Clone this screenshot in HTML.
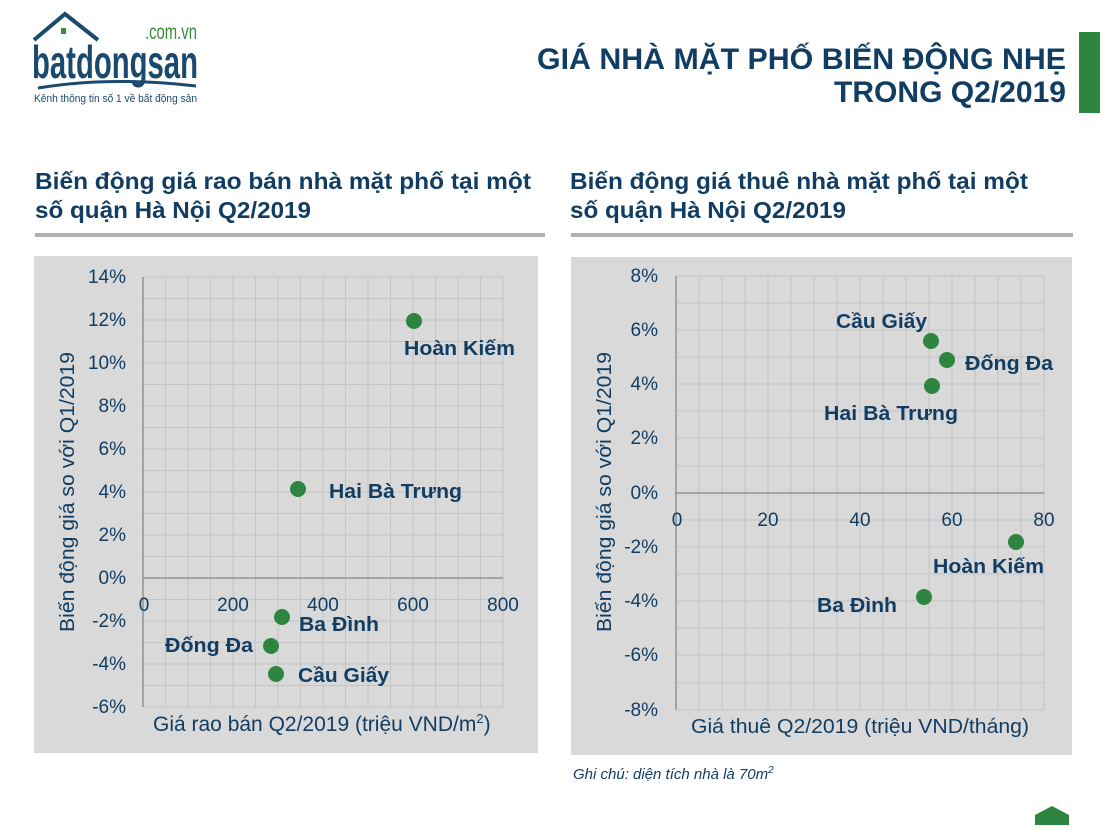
<!DOCTYPE html>
<html><head><meta charset="utf-8"><style>
body{margin:0;width:1100px;height:825px;background:#fff;overflow:hidden;font-family:"Liberation Sans",Arial,sans-serif}
</style></head><body>
<svg width="1100" height="825" xmlns="http://www.w3.org/2000/svg" font-family="Liberation Sans, Arial, sans-serif">
<path d="M34 40 L65 14 L98 40" fill="none" stroke="#1a4a6e" stroke-width="4"/>
<rect x="61" y="28" width="5" height="6" fill="#3a8a3a"/>
<text x="145" y="39" font-size="21" fill="#3a8a3a" textLength="52" lengthAdjust="spacingAndGlyphs">.com.vn</text>
<text x="32" y="78" font-size="46" font-weight="bold" fill="#1a4a6e" textLength="166" lengthAdjust="spacingAndGlyphs">batdongsan</text>
<path d="M38 88 Q110 76 196 86" fill="none" stroke="#1a4a6e" stroke-width="3"/>
<text x="34" y="102" font-size="11" fill="#1a4a6e" textLength="163" lengthAdjust="spacingAndGlyphs">Kênh thông tin số 1 về bất động sản</text>
<text x="1066" y="69" font-size="30" font-weight="bold" fill="#123d63" text-anchor="end" textLength="529" lengthAdjust="spacingAndGlyphs">GIÁ NHÀ MẶT PHỐ BIẾN ĐỘNG NHẸ</text>
<text x="1066" y="102" font-size="30" font-weight="bold" fill="#123d63" text-anchor="end" textLength="232" lengthAdjust="spacingAndGlyphs">TRONG Q2/2019</text>
<rect x="1079" y="32" width="21" height="81" fill="#2e8540"/>
<g font-size="23" font-weight="bold" fill="#123d63">
<text x="35" y="189" textLength="496" lengthAdjust="spacingAndGlyphs">Biến động giá rao bán nhà mặt phố tại một</text>
<text x="35" y="218" textLength="276" lengthAdjust="spacingAndGlyphs">số quận Hà Nội Q2/2019</text>
<text x="570" y="189" textLength="458" lengthAdjust="spacingAndGlyphs">Biến động giá thuê nhà mặt phố tại một</text>
<text x="570" y="218" textLength="276" lengthAdjust="spacingAndGlyphs">số quận Hà Nội Q2/2019</text>
</g>
<rect x="35" y="233" width="510" height="4" fill="#b0b0b0"/>
<rect x="571" y="233" width="502" height="4" fill="#b0b0b0"/>
<rect x="34" y="256" width="504" height="497" fill="#d9d9d9"/>
<rect x="571" y="257" width="501" height="498" fill="#d9d9d9"/>
<g stroke="#c4c4c4" stroke-width="1">
<path d="M165.5 277V707M188 277V707M210.5 277V707M233 277V707M255.5 277V707M278 277V707M300.5 277V707M323 277V707M345.5 277V707M368 277V707M390.5 277V707M413 277V707M435.5 277V707M458 277V707M480.5 277V707M503 277V707"/>
<path d="M143 277H503M143 298.5H503M143 320H503M143 341.5H503M143 363H503M143 384.5H503M143 406H503M143 427.5H503M143 449H503M143 470.5H503M143 492H503M143 513.5H503M143 535H503M143 556.5H503M143 599.5H503M143 621H503M143 642.5H503M143 664H503M143 685.5H503M143 707H503"/>
</g>
<path d="M143 277V707M143 578H503" stroke="#888" stroke-width="1.3"/>
<g font-size="19" fill="#123d63" text-anchor="end">
<text x="126" y="283">14%</text><text x="126" y="326">12%</text><text x="126" y="369">10%</text><text x="126" y="412">8%</text><text x="126" y="455">6%</text><text x="126" y="498">4%</text><text x="126" y="541">2%</text><text x="126" y="584">0%</text><text x="126" y="627">-2%</text><text x="126" y="670">-4%</text><text x="126" y="713">-6%</text>
</g>
<g font-size="19" fill="#123d63" text-anchor="middle">
<text x="144" y="611">0</text><text x="233" y="611">200</text><text x="323" y="611">400</text><text x="413" y="611">600</text><text x="503" y="611">800</text>
<text x="153" y="731" font-size="21" text-anchor="start">Giá rao bán Q2/2019 (triệu VND/m<tspan font-size="13" dy="-8">2</tspan><tspan dy="8">)</tspan></text>
<text transform="translate(74,492) rotate(-90)" font-size="20" textLength="280" lengthAdjust="spacingAndGlyphs">Biến động giá so với Q1/2019</text>
</g>
<g fill="#2e8540">
<circle cx="414" cy="321" r="8"/><circle cx="298" cy="489" r="8"/><circle cx="282" cy="617" r="8"/><circle cx="271" cy="646" r="8"/><circle cx="276" cy="674" r="8"/>
</g>
<g font-size="20" font-weight="bold" fill="#123d63">
<text x="404" y="355" textLength="111" lengthAdjust="spacingAndGlyphs">Hoàn Kiếm</text><text x="329" y="498" textLength="133" lengthAdjust="spacingAndGlyphs">Hai Bà Trưng</text><text x="299" y="631" textLength="80" lengthAdjust="spacingAndGlyphs">Ba Đình</text><text x="165" y="652" textLength="88" lengthAdjust="spacingAndGlyphs">Đống Đa</text><text x="298" y="682" textLength="91" lengthAdjust="spacingAndGlyphs">Cầu Giấy</text>
</g>
<g stroke="#c4c4c4" stroke-width="1">
<path d="M699 276V710M722 276V710M745 276V710M768 276V710M791 276V710M814 276V710M837 276V710M860 276V710M883 276V710M906 276V710M929 276V710M952 276V710M975 276V710M998 276V710M1021 276V710M1044 276V710"/>
<path d="M676 276H1044M676 303H1044M676 330H1044M676 357H1044M676 384H1044M676 411H1044M676 438H1044M676 466H1044M676 520H1044M676 547H1044M676 574H1044M676 601H1044M676 628H1044M676 655H1044M676 683H1044M676 710H1044"/>
</g>
<path d="M676 276V710M676 493H1044" stroke="#888" stroke-width="1.3"/>
<g font-size="19" fill="#123d63" text-anchor="end">
<text x="658" y="282">8%</text><text x="658" y="336">6%</text><text x="658" y="390">4%</text><text x="658" y="444">2%</text><text x="658" y="499">0%</text><text x="658" y="553">-2%</text><text x="658" y="607">-4%</text><text x="658" y="661">-6%</text><text x="658" y="716">-8%</text>
</g>
<g font-size="19" fill="#123d63" text-anchor="middle">
<text x="677" y="526">0</text><text x="768" y="526">20</text><text x="860" y="526">40</text><text x="952" y="526">60</text><text x="1044" y="526">80</text>
<text x="860" y="733" font-size="20" textLength="338" lengthAdjust="spacingAndGlyphs">Giá thuê Q2/2019 (triệu VND/tháng)</text>
<text transform="translate(611,492) rotate(-90)" font-size="20" textLength="280" lengthAdjust="spacingAndGlyphs">Biến động giá so với Q1/2019</text>
</g>
<g fill="#2e8540">
<circle cx="931" cy="341" r="8"/><circle cx="947" cy="360" r="8"/><circle cx="932" cy="386" r="8"/><circle cx="1016" cy="542" r="8"/><circle cx="924" cy="597" r="8"/>
</g>
<g font-size="20" font-weight="bold" fill="#123d63">
<text x="836" y="328" textLength="91" lengthAdjust="spacingAndGlyphs">Cầu Giấy</text><text x="965" y="370" textLength="88" lengthAdjust="spacingAndGlyphs">Đống Đa</text><text x="824" y="420" textLength="134" lengthAdjust="spacingAndGlyphs">Hai Bà Trưng</text><text x="933" y="573" textLength="111" lengthAdjust="spacingAndGlyphs">Hoàn Kiếm</text><text x="817" y="612" textLength="80" lengthAdjust="spacingAndGlyphs">Ba Đình</text>
</g>
<text x="573" y="779" font-size="15" font-style="italic" fill="#123d63">Ghi chú: diện tích nhà là 70m<tspan font-size="10" dy="-6">2</tspan></text>
<path d="M1035 825V815L1052 806L1069 815V825Z" fill="#2e8540"/>
</svg>
</body></html>
